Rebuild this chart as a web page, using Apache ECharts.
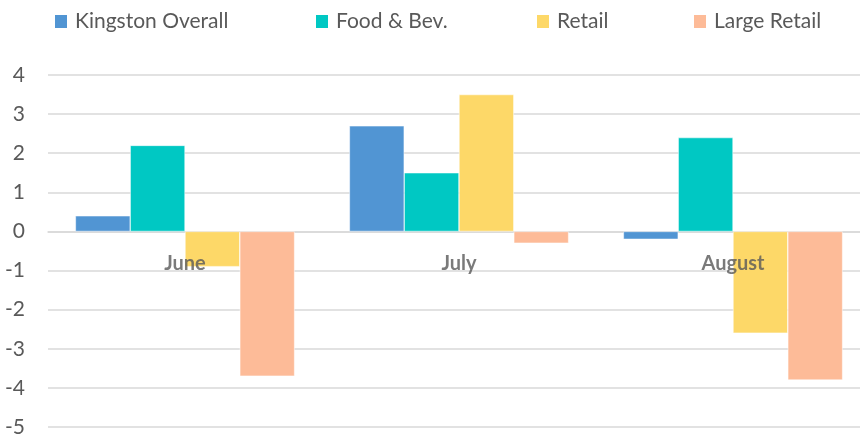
<!DOCTYPE html>
<html><head><meta charset="utf-8">
<script src="https://cdn.jsdelivr.net/npm/echarts@6/dist/echarts.min.js"></script>
<style>html,body{margin:0;padding:0;background:#fff}#c{width:860px;height:434px}</style>
</head><body><div id="c"></div>
<script>
const categories = ['June', 'July', 'August'];
const seriesNames = ['Kingston Overall', 'Food & Bev.', 'Retail', 'Large Retail'];
const kingstonOverall = [0.4, 2.7, -0.2];
const foodBev = [2.2, 1.5, 2.4];
const retail = [-0.9, 3.5, -2.6];
const largeRetail = [-3.7, -0.3, -3.8];
const colors = ['#5195d3', '#00c8c3', '#fdd868', '#fdbb98'];
const values = [kingstonOverall, foodBev, retail, largeRetail];
const legendLeft = [53, 314, 535, 692];
const font = 'Lato, "Open Sans", sans-serif';

const chart = echarts.init(document.getElementById('c'));
const barSeries = seriesNames.map((n, i) => ({
  name: n, type: 'bar', data: values[i], barGap: '0%', barCategoryGap: '20%',
  itemStyle: { color: colors[i], borderColor: '#fff', borderWidth: 0.5 }
}));
const labelSeries = {
  type: 'scatter', symbolSize: 0, silent: true, z: 10,
  data: categories.map(c => [c, 0]),
  label: {
    show: true, position: 'bottom', distance: 22,
    formatter: p => p.value[0],
    fontSize: 20, fontWeight: 'bold', color: '#595959', fontFamily: font
  }
};
chart.setOption({
  animation: false,
  legend: seriesNames.map((n, i) => ({
    data: [n], left: legendLeft[i], top: 11, itemWidth: 14, itemHeight: 15,
    icon: 'rect', itemGap: 0, padding: 0,
    textStyle: { fontSize: 21, color: '#595959', fontFamily: font, padding: [0, 0, 0, 2] }
  })),
  grid: { left: 48, right: -10, top: 75, bottom: 7, containLabel: false, outerBoundsMode: 'none' },
  xAxis: {
    type: 'category', data: categories,
    axisLine: { onZero: true, lineStyle: { color: '#d9d9d9', width: 1.5 } },
    axisTick: { show: false },
    axisLabel: { show: false }
  },
  yAxis: {
    type: 'value', min: -5, max: 4, interval: 1,
    axisLine: { show: false }, axisTick: { show: false },
    axisLabel: { fontSize: 21, color: '#595959', fontFamily: font, margin: 23, align: 'right' },
    splitLine: { lineStyle: { color: '#d9d9d9', width: 1.5 } }
  },
  series: barSeries.concat([labelSeries])
});
</script></body></html>
